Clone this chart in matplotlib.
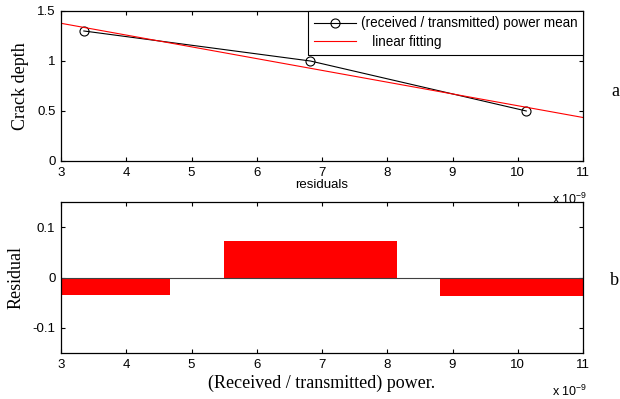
import numpy as np
import matplotlib
matplotlib.use('Agg')
import matplotlib.pyplot as plt
from matplotlib.ticker import FuncFormatter

# power ratio (received / transmitted) and measured crack depth
power_ratio = np.array([3.35e-9, 6.82e-9, 10.13e-9])
crack_depth = np.array([1.30, 1.00, 0.50])

x_lim = (3e-9, 11e-9)
x_ticks = np.arange(3, 12) * 1e-9
y_ticks_top = [0, 0.5, 1, 1.5]
y_ticks_bot = [-0.1, 0, 0.1]

# linear fit and residuals
coef = np.polyfit(power_ratio, crack_depth, 1)
fit_x = np.array(x_lim)
fit_y = np.polyval(coef, fit_x)
residuals = crack_depth - np.polyval(coef, power_ratio)

sans = 'Liberation Sans'
serif = 'Liberation Serif'
plt.rcParams['font.family'] = sans
plt.rcParams['font.size'] = 9.5
plt.rcParams['axes.unicode_minus'] = False

fig = plt.figure(figsize=(6.2, 3.99), dpi=100)
ax1 = fig.add_axes([0.0984, 0.5965, 0.842, 0.376])
ax2 = fig.add_axes([0.0984, 0.1153, 0.842, 0.378])

sci = FuncFormatter(lambda v, p: '%g' % round(v / 1e-9, 6))
plain = FuncFormatter(lambda v, p: '%g' % round(v, 6))

# top panel
ax1.plot(power_ratio, crack_depth, 'k-o', lw=0.8, mfc='none', ms=6.5, mew=0.8,
         label='(received / transmitted) power mean')
ax1.plot(fit_x, fit_y, color='red', lw=0.8, label='   linear fitting')
ax1.set_xlim(x_lim)
ax1.set_ylim(0, 1.5)
ax1.set_yticks(y_ticks_top)
ax1.yaxis.set_major_formatter(plain)
ax1.set_xticks(x_ticks)
ax1.xaxis.set_major_formatter(sci)
ax1.set_xlabel('residuals', fontsize=9.5, labelpad=0)
ax1.set_ylabel('Crack depth', family=serif, fontsize=13, labelpad=6)
leg = ax1.legend(loc='upper right', borderaxespad=0, fancybox=False,
                 edgecolor='black', framealpha=1, fontsize=9.75, handlelength=3.1,
                 borderpad=0.4, labelspacing=0.35, handletextpad=0.4)
leg.get_frame().set_linewidth(0.8)
ax1.text(1.008, -0.205, r'x 10$^{\mathregular{-9}}$', transform=ax1.transAxes,
         ha='right', va='top', fontsize=9)
ax1.text(1.061, 0.46, 'a', transform=ax1.transAxes, family=serif, fontsize=13,
         ha='center', va='center')

# bottom panel
width = 0.8 * np.min(np.diff(power_ratio))
ax2.bar(power_ratio, residuals, width=width, color='red', edgecolor='none')
ax2.axhline(0, color='0.25', lw=0.8)
ax2.set_xlim(x_lim)
ax2.set_ylim(-0.15, 0.15)
ax2.set_yticks(y_ticks_bot)
ax2.yaxis.set_major_formatter(plain)
ax2.set_xticks(x_ticks)
ax2.xaxis.set_major_formatter(sci)
ax2.set_xlabel('(Received / transmitted) power.', family=serif, fontsize=13,
               labelpad=3)
ax2.set_ylabel('Residual', family=serif, fontsize=13, labelpad=6)
ax2.text(1.008, -0.205, r'x 10$^{\mathregular{-9}}$', transform=ax2.transAxes,
         ha='right', va='top', fontsize=9)
ax2.text(1.061, 0.483, 'b', transform=ax2.transAxes, family=serif, fontsize=13,
         ha='center', va='center')

for ax in (ax1, ax2):
    ax.tick_params(direction='in', top=True, right=True, length=3, width=0.8,
                   labelsize=9.5, pad=4)
    for s in ax.spines.values():
        s.set_linewidth(0.9)

fig.savefig('out.png', dpi=100)
